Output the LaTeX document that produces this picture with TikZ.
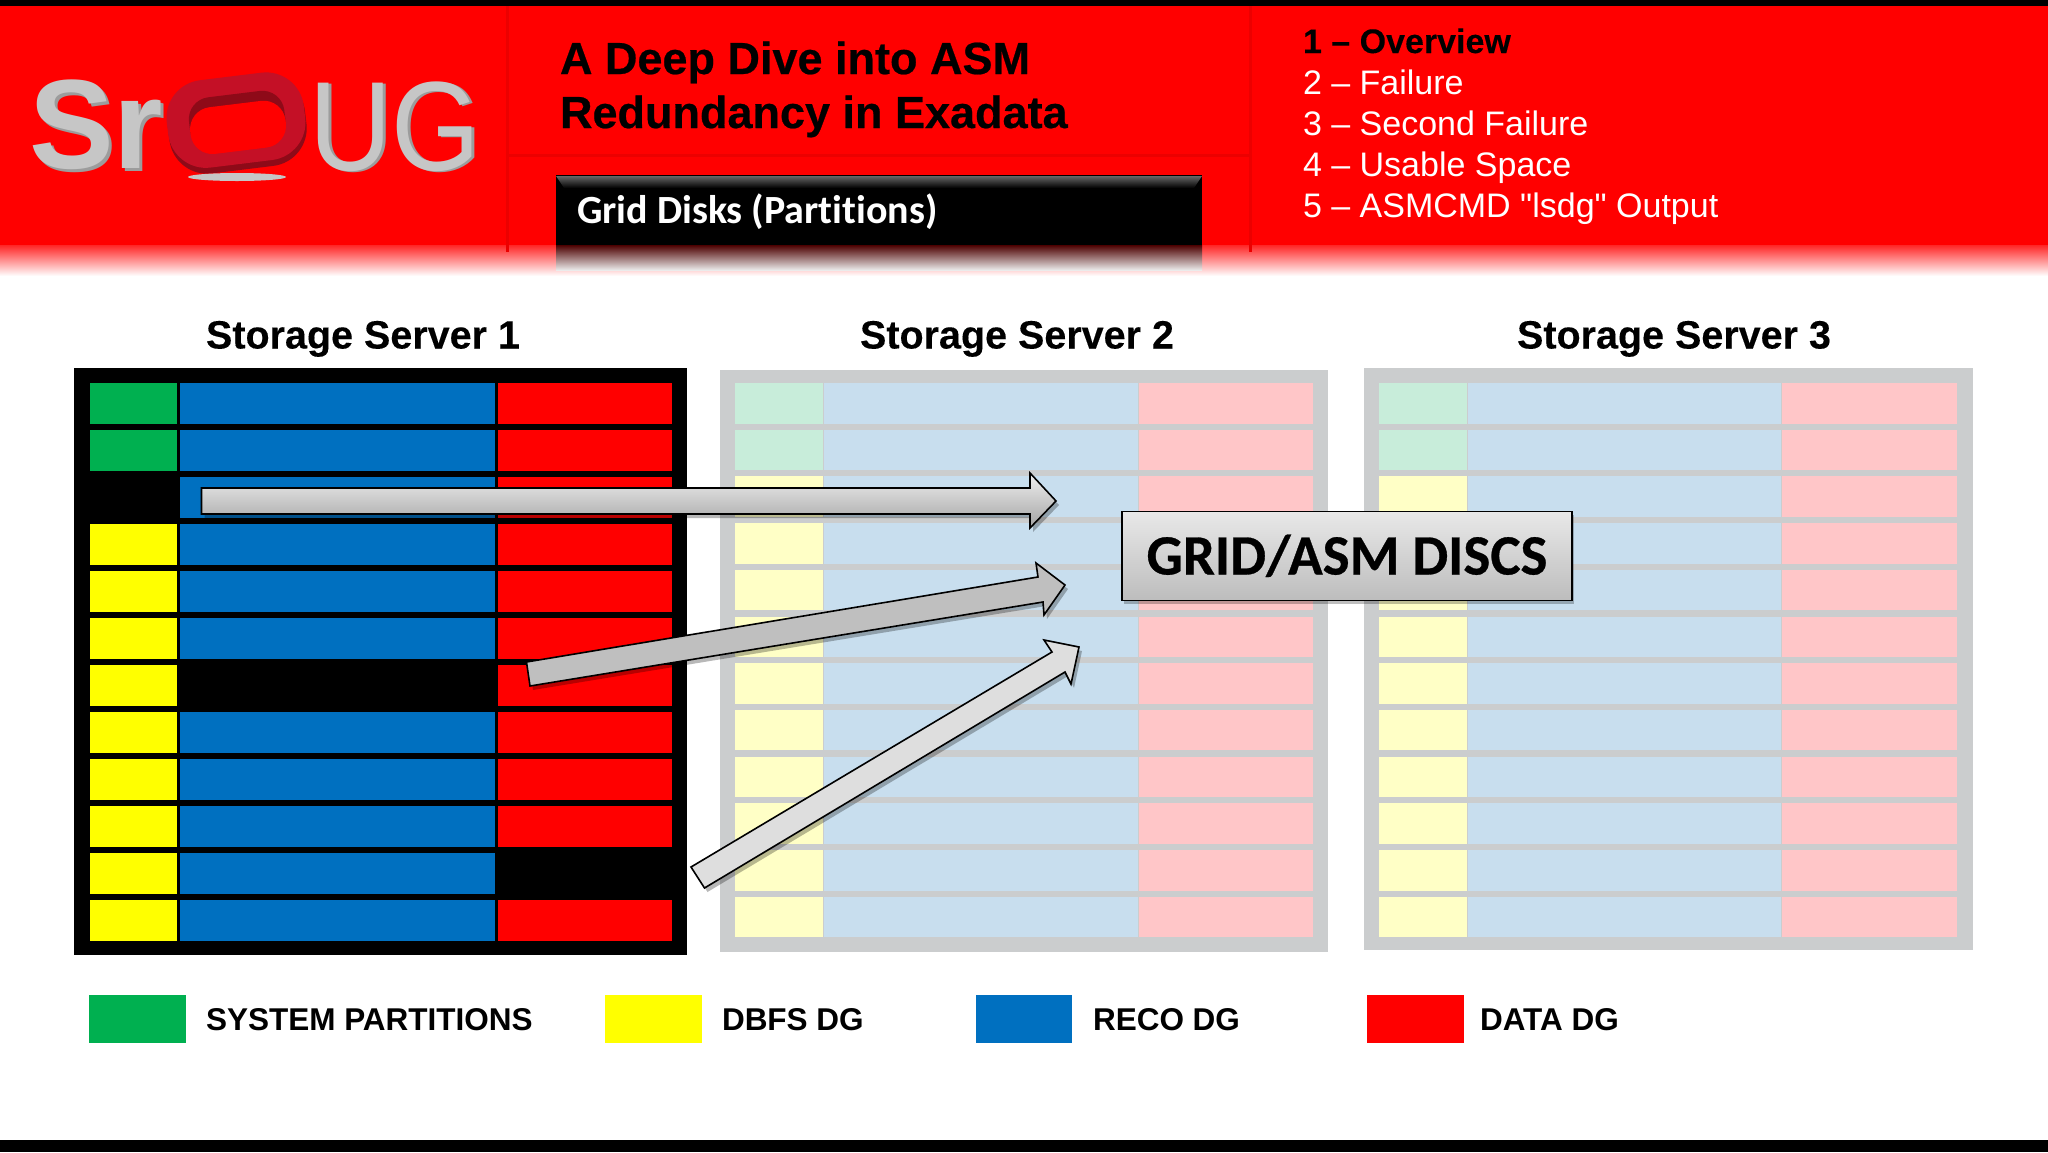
\documentclass[tikz,border=0pt]{standalone}
\usepackage{fontspec}
\setmainfont{Liberation Sans}
\newfontfamily\plainf{Liberation Sans}
\newfontfamily\heavy[FakeBold=0.5]{Liberation Sans Bold}
\newfontfamily\semiheavy[FakeBold=0.2]{Liberation Sans Bold}
\newfontfamily\calib[Ligatures=NoCommon,BoldFont=Carlito Bold]{Carlito}
\newfontfamily\calibheavy[Ligatures=NoCommon,FakeBold=0.5]{Carlito Bold}
\usetikzlibrary{shadows}
\definecolor{exgreen}{HTML}{00B050}
\definecolor{exblue}{HTML}{0070C0}
\definecolor{exyellow}{HTML}{FFFF00}
\definecolor{exred}{HTML}{FF0000}
\definecolor{fgreen}{HTML}{C8EDDA}
\definecolor{fblue}{HTML}{C8DEEE}
\definecolor{fyellow}{HTML}{FFFFC6}
\definecolor{fred}{HTML}{FFC6C8}
\definecolor{fgrey}{HTML}{CBCDCE}
\definecolor{sepred}{HTML}{EC0000}
\definecolor{logogrey}{HTML}{C6C6C6}
\definecolor{logodark}{HTML}{9C9C9C}
\definecolor{oface}{HTML}{C41026}
\definecolor{oside}{HTML}{8E0A18}
\tikzset{
  x=1pt,y=-1pt,
  lbl/.style={inner sep=0pt,outer sep=0pt,anchor=base west},
  ctr/.style={inner sep=0pt,outer sep=0pt,anchor=base},
  blockarrow/.style={draw=black,line width=1.6pt,line join=miter,
     drop shadow={shadow xshift=3pt,shadow yshift=-4pt,opacity=.28,fill=black}},
}
\newcommand{\fsz}[1]{\fontsize{#1}{#1}\selectfont}
\begin{document}
\begin{tikzpicture}
\useasboundingbox (0,0) rectangle (2048,1152);
\fill[white] (0,0) rectangle (2048,1152);
% header
\fill[exred] (0,5) rectangle (2048,245);
\shade[top color=exred!85!white,bottom color=white] (0,245) rectangle (2048,276);
\fill[black] (0,0) rectangle (2048,6);
\fill[black] (0,1140) rectangle (2048,1152);
\draw[sepred,line width=3pt] (507,6) -- (507,252);
\draw[sepred,line width=3pt] (1250,6) -- (1250,252);
\draw[sepred,line width=3pt] (507,155) -- (1250,155);
% logo
\node[lbl,text=logodark] (logosrs) at (32,171) {\fsz{127}\bfseries Sr};
\node[lbl,text=logogrey] (logosr) at (29,168) {\fsz{127}\bfseries Sr};
\begin{scope}[shift={(237,124)},rotate=7]
  \fill[oside,rounded corners=38pt] (-69,-43) rectangle (69,46);
\end{scope}
\begin{scope}[shift={(237,120)},rotate=7]
  \fill[oface,rounded corners=38pt] (-70,-44) rectangle (68,44);
\end{scope}
\begin{scope}[shift={(237,127)},rotate=7]
  \fill[oside,rounded corners=22pt] (-47,-33) rectangle (49,20);
  \fill[exred,rounded corners=22pt] (-47,-23) rectangle (49,24);
\end{scope}
\fill[logogrey] (237,177) ellipse [x radius=49,y radius=4];
\node[lbl,text=logodark,xscale=.9] (logoug2) at (312,171) {\fsz{127}UG};
\node[lbl,text=logogrey,xscale=.9] (logoug) at (309,170) {\fsz{127}UG};
% titles
\node[lbl,text=black] (title1) at (560,74) {\fsz{45}\heavy A Deep Dive into ASM};
\node[lbl,text=black] (title2) at (560,128) {\fsz{45}\heavy Redundancy in Exadata};
% section box
\shade[top color=black!70!exred,bottom color=white!92!black] (556,245) rectangle (1202,270);
\fill[black] (556,175) rectangle (1202,245);
\shade[top color=black!60,bottom color=black] (556,176) -- (1202,176) -- (1194,188) -- (564,188) -- cycle;
\node[lbl,text=white] (section) at (577,223) {\fsz{40}\calib\bfseries Grid Disks (Partitions)};
% agenda
\node[lbl,text=black] (item1) at (1303,53) {\fsz{34}\semiheavy 1 – Overview};
\node[lbl,text=white] (item2) at (1303,94) {\fsz{34}2 – Failure};
\node[lbl,text=white] (item3) at (1303,135) {\fsz{34}3 – Second Failure};
\node[lbl,text=white] (item4) at (1303,176) {\fsz{34}4 – Usable Space};
\node[lbl,text=white] (item5) at (1303,217) {\fsz{34}\plainf 5 – ASMCMD "lsdg" Output};
% column headings
\node[ctr] (head1) at (363,348.5) {\fsz{39.5}\semiheavy Storage Server 1};
\node[ctr] (head2) at (1017,348.5) {\fsz{39.5}\semiheavy Storage Server 2};
\node[ctr] (head3) at (1674,348.5) {\fsz{39.5}\semiheavy Storage Server 3};
% server 1
\fill[black] (74,368) rectangle (687,955);
\foreach \i in {0,...,11}{
  \pgfmathsetmacro{\t}{383+47*\i}
  \pgfmathsetmacro{\b}{\t+40.5}
  \ifnum\i<2 \fill[exgreen] (90,\t) rectangle (177,\b);
  \else\ifnum\i=2 \relax\else \fill[exyellow] (90,\t) rectangle (177,\b);\fi\fi
  \ifnum\i=6 \relax\else \fill[exblue] (180,\t) rectangle (495,\b);\fi
  \ifnum\i=10 \relax\else \fill[exred] (497.5,\t) rectangle (672,\b);\fi
}
% server 2 and 3 (faded)
\foreach \ox/\oy/\oxr/\oyb/\yl/\yr/\br/\rr in {720/370/1328/952/735/823/1138/1313,1364/368/1973/950/1379/1467/1781/1957}{
  \fill[fgrey] (\ox,\oy) rectangle (\oxr,\oyb);
  \foreach \i in {0,...,11}{
    \pgfmathsetmacro{\t}{383+46.7*\i}
    \pgfmathsetmacro{\b}{\t+40.5}
    \ifnum\i<2 \fill[fgreen] (\yl,\t) rectangle (\yr,\b);
    \else \fill[fyellow] (\yl,\t) rectangle (\yr,\b);\fi
    \fill[fblue] (\yr+1,\t) rectangle (\br,\b);
    \fill[fred] (\br+1,\t) rectangle (\rr,\b);
  }
}
% block arrows
\path[blockarrow,top color=black!6,bottom color=black!36]
  (201.5,488) -- (1030,488) -- (1030,473) -- (1056,501) -- (1030,528) -- (1030,514) -- (201.5,514) -- cycle;
\path[blockarrow,fill=black!25]
  (526.5,662) -- (1038,577) -- (1036,563) -- (1065,585) -- (1044,615) -- (1043,602) -- (530,686) -- cycle;
\path[blockarrow,fill=black!13]
  (691,867) -- (1052,652) -- (1044,640) -- (1079,647) -- (1071,684) -- (1065,672) -- (704.5,888) -- cycle;
% label box
\node[draw=black,line width=1.6pt,top color=black!9,bottom color=black!26,
  minimum width=450pt,minimum height=89pt,inner sep=0pt,
  drop shadow={shadow xshift=2pt,shadow yshift=-3pt,opacity=.25,fill=black}] (gridbox) at (1346.75,556) {};
\node[ctr,text=black] (gridlabel) at (1347,574.5) {\fsz{57}\calibheavy GRID/ASM DISCS};
% legend
\fill[exgreen] (88.6,995) rectangle (185.5,1043);
\fill[exyellow] (604.6,995) rectangle (701.5,1043);
\fill[exblue] (975.6,995) rectangle (1072,1043);
\fill[exred] (1367,995) rectangle (1464,1043);
\node[lbl] (leg1) at (206,1030) {\fsz{31.5}\bfseries SYSTEM PARTITIONS};
\node[lbl] (leg2) at (722,1030) {\fsz{31.5}\bfseries DBFS DG};
\node[lbl] (leg3) at (1093,1030) {\fsz{31.5}\bfseries RECO DG};
\node[lbl] (leg4) at (1480,1030) {\fsz{31.5}\bfseries DATA DG};
\end{tikzpicture}
\end{document}
